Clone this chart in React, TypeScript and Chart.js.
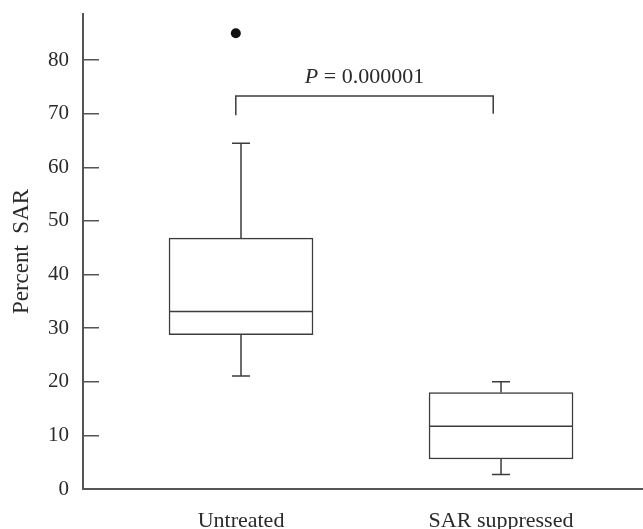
import React, { useEffect, useRef } from "react";
import { Chart, registerables } from "chart.js";

Chart.register(...registerables);

const CATEGORIES = ["Untreated", "SAR suppressed"];
const CATEGORY_X = [1, 2];
const WHISKER_LOW = [21.1, 2.7];
const Q1 = [28.8, 5.6];
const MEDIAN = [33.1, 11.7];
const Q3 = [46.8, 18.0];
const WHISKER_HIGH = [64.5, 20.0];
const OUTLIER_X = [0.98];
const OUTLIER_Y = [85.0];
const Y_TICKS = [0, 10, 20, 30, 40, 50, 60, 70, 80];
const BRACKET_X = [0.98, 1.97];
const BRACKET_TOP = 73.3;
const BRACKET_LEGS = [69.7, 70.0];
const P_TEXT_Y = 75.7;
const P_ITALIC = "P";
const P_REST = " = 0.000001";
const Y_TITLE = "Percent  SAR";

const FONT = "'Liberation Serif', 'Times New Roman', serif";
const LINE = "#3c3c3c";
const AXIS = "#555555";
const TEXT = "#2a2a2a";

const boxExtras = {
  id: "boxExtras",
  afterDatasetsDraw(chart: any) {
    const { ctx } = chart;
    const xs = chart.scales.x;
    const ys = chart.scales.y;
    const meta = chart.getDatasetMeta(0);
    ctx.save();
    ctx.strokeStyle = LINE;
    ctx.lineWidth = 1.5;
    const cap = 9;
    CATEGORY_X.forEach((cv, i) => {
      const cx = xs.getPixelForValue(cv);
      const bar = meta.data[i];
      const half = bar ? bar.width / 2 : 72;
      const yHi = ys.getPixelForValue(WHISKER_HIGH[i]);
      const yQ3 = ys.getPixelForValue(Q3[i]);
      const yLo = ys.getPixelForValue(WHISKER_LOW[i]);
      const yQ1 = ys.getPixelForValue(Q1[i]);
      const yMed = ys.getPixelForValue(MEDIAN[i]);
      ctx.beginPath();
      ctx.moveTo(cx, yQ3);
      ctx.lineTo(cx, yHi);
      ctx.moveTo(cx - cap, yHi);
      ctx.lineTo(cx + cap, yHi);
      ctx.moveTo(cx, yQ1);
      ctx.lineTo(cx, yLo);
      ctx.moveTo(cx - cap, yLo);
      ctx.lineTo(cx + cap, yLo);
      ctx.moveTo(cx - half, yMed);
      ctx.lineTo(cx + half, yMed);
      ctx.stroke();
    });
    // significance bracket
    const bx1 = xs.getPixelForValue(BRACKET_X[0]);
    const bx2 = xs.getPixelForValue(BRACKET_X[1]);
    const bt = ys.getPixelForValue(BRACKET_TOP);
    ctx.beginPath();
    ctx.moveTo(bx1, ys.getPixelForValue(BRACKET_LEGS[0]));
    ctx.lineTo(bx1, bt);
    ctx.lineTo(bx2, bt);
    ctx.lineTo(bx2, ys.getPixelForValue(BRACKET_LEGS[1]));
    ctx.stroke();
    // p-value label
    const fItal = `italic 22px ${FONT}`;
    const fReg = `22px ${FONT}`;
    ctx.font = fItal;
    const w1 = ctx.measureText(P_ITALIC).width;
    ctx.font = fReg;
    const w2 = ctx.measureText(P_REST).width;
    const mid = (bx1 + bx2) / 2;
    const start = mid - (w1 + w2) / 2;
    const ty = ys.getPixelForValue(P_TEXT_Y);
    ctx.fillStyle = TEXT;
    ctx.textBaseline = "alphabetic";
    ctx.textAlign = "left";
    ctx.font = fItal;
    ctx.fillText(P_ITALIC, start, ty);
    ctx.font = fReg;
    ctx.fillText(P_REST, start + w1, ty);
    ctx.restore();
  },
};

export default function App() {
  const ref = useRef<HTMLCanvasElement | null>(null);
  useEffect(() => {
    if (!ref.current) return;
    const chart = new Chart(ref.current, {
      type: "bar",
      data: {
        datasets: [
          {
            type: "bar",
            data: CATEGORY_X.map((x, i) => ({ x, y: [Q1[i], Q3[i]] })) as any,
            backgroundColor: "#ffffff",
            borderColor: LINE,
            borderWidth: 1.5,
            borderSkipped: false,
            barThickness: 144,
          } as any,
          {
            type: "scatter",
            data: OUTLIER_X.map((x, i) => ({ x, y: OUTLIER_Y[i] })),
            backgroundColor: "#111111",
            borderColor: "#111111",
            pointRadius: 5,
            pointBorderWidth: 0,
          } as any,
        ],
      },
      options: {
        animation: false,
        responsive: false,
        layout: { autoPadding: false, padding: { top: 14, left: 0, right: 0, bottom: 0 } },
        plugins: { legend: { display: false }, tooltip: { enabled: false } },
        scales: {
          x: {
            type: "linear",
            offset: false,
            min: 0.3923,
            max: 2.546,
            afterBuildTicks: (s: any) => {
              s.ticks = CATEGORY_X.map((v) => ({ value: v }));
            },
            afterFit: (s: any) => {
              s.height = 40;
              s.paddingLeft = 0;
              s.paddingRight = 0;
            },
            grid: { display: false, drawTicks: false },
            border: { display: true, color: AXIS, width: 2 },
            ticks: {
              autoSkip: false,
              maxRotation: 0,
              padding: 19,
              color: TEXT,
              font: { family: FONT, size: 22 },
              callback: (v: any) => {
                const idx = CATEGORY_X.indexOf(Number(v));
                return idx >= 0 ? CATEGORIES[idx] : "";
              },
            },
          },
          y: {
            type: "linear",
            min: 0,
            max: 88.6,
            afterBuildTicks: (s: any) => {
              s.ticks = Y_TICKS.map((v) => ({ value: v }));
            },
            afterFit: (s: any) => {
              s.width = 83;
              s.paddingTop = 0;
              s.paddingBottom = 0;
            },
            grid: {
              drawOnChartArea: false,
              drawTicks: true,
              tickLength: -16,
              color: AXIS,
              lineWidth: 1.5,
            },
            border: { display: true, color: AXIS, width: 2 },
            ticks: {
              padding: 30,
              color: TEXT,
              font: { family: FONT, size: 21 },
            },
            title: {
              display: true,
              text: Y_TITLE,
              color: TEXT,
              font: { family: FONT, size: 23 },
              padding: { top: 8, bottom: 0 },
            },
          },
        },
      } as any,
      plugins: [boxExtras],
    });
    return () => chart.destroy();
  }, []);
  return (
    <div style={{ position: "fixed", left: 0, top: 0, width: 643, height: 529, background: "#fff" }}>
      <canvas ref={ref} width={643} height={529} style={{ display: "block" }} />
    </div>
  );
}
